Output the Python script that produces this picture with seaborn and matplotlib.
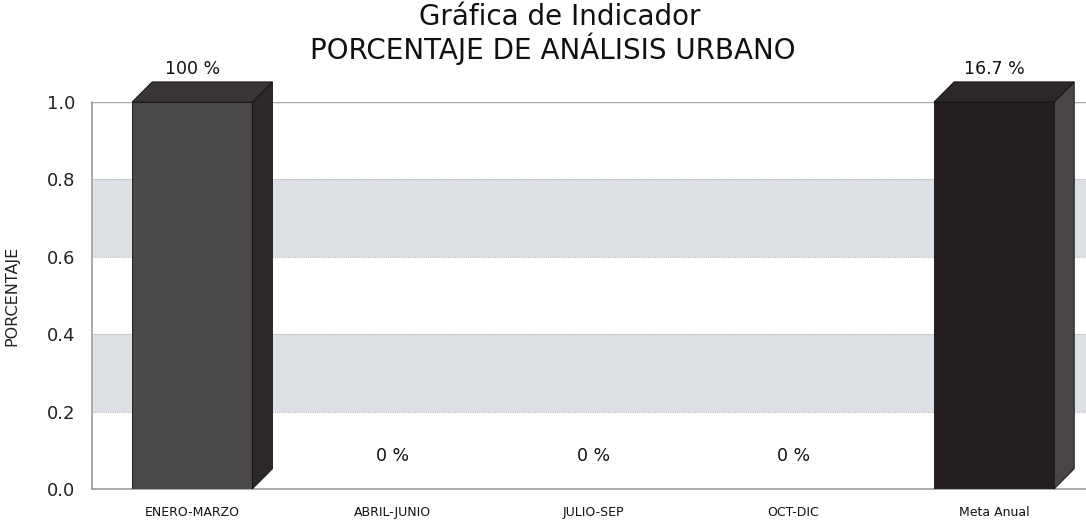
import matplotlib
matplotlib.use("Agg")
import matplotlib.pyplot as plt
import seaborn as sns
import pandas as pd
from matplotlib.patches import Polygon

# Datos del indicador
periodos = ["ENERO-MARZO", "ABRIL-JUNIO", "JULIO-SEP", "OCT-DIC", "Meta Anual"]
valores = [1.0, 0.0, 0.0, 0.0, 1.0]
etiquetas = ["100 %", "0 %", "0 %", "0 %", "16.7 %"]
colores = ["#4b4849", "#4b4849", "#4b4849", "#4b4849", "#241e20"]
lados = ["#2c2829", "#2c2829", "#2c2829", "#2c2829", "#4a4446"]
techos = ["#393536", "#393536", "#393536", "#393536", "#2d2729"]

df = pd.DataFrame({"periodo": periodos, "valor": valores})

sns.set_theme(style="white")
plt.rcParams["font.family"] = ["DejaVu Sans"]

fig = plt.figure(figsize=(10.86, 5.23), dpi=100)
ax = fig.add_axes([0.0847, 0.065, 0.915, 0.74])

# bandas grises alternas
for lo, hi in [(0.2, 0.4), (0.6, 0.8)]:
    ax.axhspan(lo, hi, color="#dde0e5", zorder=0, lw=0)
for yv in [0.2, 0.4, 0.6, 0.8]:
    ax.axhline(yv, color="#b8b8b8", lw=0.8, ls=(0, (1, 1)), zorder=1)
ax.axhline(1.0, color="#a8a8a8", lw=1.0, zorder=1)

sns.barplot(data=df, x="periodo", y="valor", hue="periodo", palette=colores,
            width=0.6, legend=False, ax=ax, zorder=3, saturation=1)

ax.set_ylim(0, 1.0)
ax.set_xlim(-0.5, 4.457)

barras = [b for c in ax.containers for b in c]
barras.sort(key=lambda b: b.get_x())

# efecto 3D
dx = 0.1
dy = 0.052
for i, p in enumerate(barras):
    x0 = p.get_x()
    x1 = x0 + p.get_width()
    h = p.get_height()
    p.set_edgecolor("#111111")
    p.set_linewidth(0.6)
    if h > 0:
        side = Polygon([(x1, 0), (x1 + dx, dy), (x1 + dx, h + dy), (x1, h)],
                       closed=True, facecolor=lados[i], edgecolor="#111111",
                       lw=0.6, zorder=3, clip_on=False)
        top = Polygon([(x0, h), (x0 + dx, h + dy), (x1 + dx, h + dy), (x1, h)],
                      closed=True, facecolor=techos[i], edgecolor="#111111",
                      lw=0.6, zorder=3, clip_on=False)
        ax.add_patch(side)
        ax.add_patch(top)
    ax.text(x0 + p.get_width() / 2, h + 0.085, etiquetas[i],
            ha="center", va="center", fontsize=12.5, fontweight="medium",
            color="#111111", clip_on=False)

ax.set_xlabel("")
ax.set_ylabel("PORCENTAJE", fontsize=11.5, color="#222222", labelpad=20)
ax.set_yticks([0.0, 0.2, 0.4, 0.6, 0.8, 1.0])
ax.set_yticklabels(["0.0", "0.2", "0.4", "0.6", "0.8", "1.0"], fontsize=13, color="#222222")
ax.tick_params(axis="x", labelsize=9, colors="#111111", pad=12, length=0)
ax.tick_params(axis="y", length=0, pad=12)

for s in ["top", "right"]:
    ax.spines[s].set_visible(False)
ax.spines["left"].set_color("#a0a0a0")
ax.spines["left"].set_linestyle((0, (1, 1)))
ax.spines["bottom"].set_color("#a0a0a0")
ax.spines["bottom"].set_linestyle((0, (1, 1)))

fig.text(0.515, 0.968, "Gráfica de Indicador", ha="center", va="center",
         fontsize=20, color="#111111")
fig.text(0.509, 0.907, "PORCENTAJE DE ANÁLISIS URBANO", ha="center", va="center",
         fontsize=20, color="#111111")

fig.savefig("out.png", dpi=100, facecolor="white")
